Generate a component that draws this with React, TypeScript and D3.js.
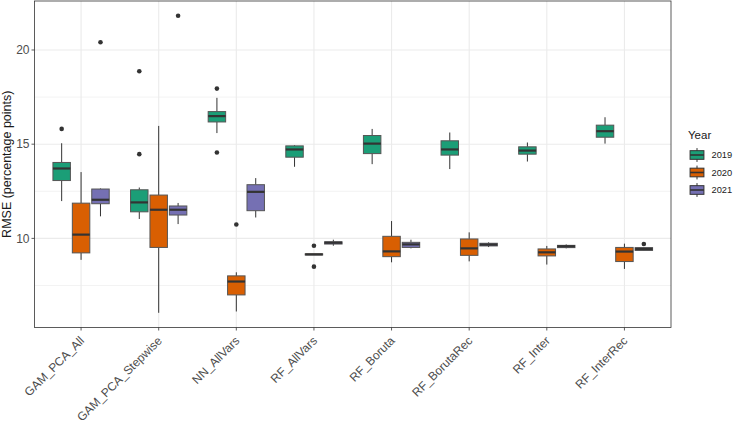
import React from "react";
import * as d3 from "d3";

const models = ["GAM_PCA_All", "GAM_PCA_Stepwise", "NN_AllVars", "RF_AllVars", "RF_Boruta", "RF_BorutaRec", "RF_Inter", "RF_InterRec"];
const years = ["2019", "2020", "2021"];
const colors = ["#1B9E77", "#D95F02", "#7570B3"];

// box stats per year, one value per model
const lower2019 = [11.98, 11.03, 15.59, 13.8, 13.94, 13.68, 14.08, 15.03];
const q1_2019 = [13.07, 11.41, 16.18, 14.31, 14.5, 14.42, 14.47, 15.37];
const med2019 = [13.71, 11.91, 16.49, 14.72, 15.03, 14.72, 14.66, 15.69];
const q3_2019 = [14.03, 12.58, 16.73, 14.91, 15.46, 15.18, 14.86, 16.01];
const upper2019 = [15.05, 12.7, 17.46, 14.95, 15.81, 15.62, 15.09, 16.43];

const lower2020 = [8.86, 6.05, 6.12, 9.12, 8.73, 8.78, 8.61, 8.38];
const q1_2020 = [9.23, 9.52, 7.0, 9.12, 9.03, 9.1, 9.07, 8.77];
const med2020 = [10.2, 11.52, 7.71, 9.15, 9.31, 9.47, 9.26, 9.3];
const q3_2020 = [11.87, 12.3, 8.01, 9.18, 10.11, 9.97, 9.44, 9.52];
const upper2020 = [13.52, 15.97, 8.2, 9.18, 10.92, 10.32, 9.6, 9.72];

const lower2021 = [11.17, 10.76, 11.11, 9.61, 9.47, 9.54, 9.47, 9.34];
const q1_2021 = [11.84, 11.24, 11.47, 9.7, 9.52, 9.6, 9.51, 9.36];
const med2021 = [12.05, 11.52, 12.47, 9.77, 9.68, 9.67, 9.58, 9.44];
const q3_2021 = [12.62, 11.72, 12.85, 9.82, 9.79, 9.74, 9.63, 9.51];
const upper2021 = [12.65, 11.88, 13.2, 9.93, 9.93, 9.79, 9.68, 9.53];

// [model index, year index, value]
const outliers = [
  [0, 0, 15.81], [0, 2, 20.41],
  [1, 0, 14.47], [1, 0, 18.87], [1, 2, 21.82],
  [2, 0, 17.95], [2, 0, 14.56], [2, 1, 10.74],
  [3, 1, 9.61], [3, 1, 8.5],
  [7, 2, 9.7],
];

const yTicks = [10, 15, 20];
const yMinor = [7.5, 12.5, 17.5];

const stats = [
  [lower2019, q1_2019, med2019, q3_2019, upper2019],
  [lower2020, q1_2020, med2020, q3_2020, upper2020],
  [lower2021, q1_2021, med2021, q3_2021, upper2021],
];

const App = () => {
  const width = 733;
  const height = 423;
  const left = 34.5, right = 671, top = 1, bottom = 327.5;

  const x = d3.scalePoint().domain(models).range([left, right]).padding(0.6);
  const step = x.step();
  const y = d3.scaleLinear().domain([5.27, 22.6]).range([bottom, top]);
  const font = "'Liberation Sans', Arial, sans-serif";
  const boxW = step * 0.225;
  const dodge = (j) => (j - 1) * step * 0.25;

  return (
    <svg width={width} height={height} style={{ position: "absolute", left: 0, top: 0 }} fontFamily={font}>
      <rect x={0} y={0} width={width} height={height} fill="white" />
      {/* grid */}
      {yMinor.map((t) => (
        <line key={"m" + t} x1={left} x2={right} y1={y(t)} y2={y(t)} stroke="#ebebeb" strokeWidth={0.6} />
      ))}
      {yTicks.map((t) => (
        <line key={"g" + t} x1={left} x2={right} y1={y(t)} y2={y(t)} stroke="#ebebeb" strokeWidth={1.1} />
      ))}
      {models.map((m) => (
        <line key={"gx" + m} x1={x(m)} x2={x(m)} y1={top} y2={bottom} stroke="#ebebeb" strokeWidth={1.1} />
      ))}

      {/* boxes */}
      {years.map((yr, j) =>
        models.map((m, i) => {
          const [lo, q1, md, q3, hi] = stats[j].map((a) => a[i]);
          const cx = x(m) + dodge(j);
          return (
            <g key={yr + m}>
              <line x1={cx} x2={cx} y1={y(hi)} y2={y(q3)} stroke="#333333" strokeWidth={1} />
              <line x1={cx} x2={cx} y1={y(q1)} y2={y(lo)} stroke="#333333" strokeWidth={1} />
              <rect x={cx - boxW / 2} y={y(q3)} width={boxW} height={Math.max(0.01, y(q1) - y(q3))}
                fill={colors[j]} stroke="#555555" strokeWidth={1} />
              <line x1={cx - boxW / 2} x2={cx + boxW / 2} y1={y(md)} y2={y(md)} stroke="#333333" strokeWidth={2.2} />
            </g>
          );
        })
      )}
      {outliers.map(([i, j, v], k) => (
        <circle key={"o" + k} cx={x(models[i]) + dodge(j)} cy={y(v)} r={2.3} fill="#333333" />
      ))}

      {/* panel border */}
      <rect x={left} y={top} width={right - left} height={bottom - top} fill="none" stroke="#333333" strokeWidth={0.8} />

      {/* y axis */}
      {yTicks.map((t) => (
        <g key={"yt" + t}>
          <line x1={left - 3} x2={left} y1={y(t)} y2={y(t)} stroke="#333333" strokeWidth={0.8} />
          <text x={left - 5} y={y(t)} dy="0.35em" textAnchor="end" fontSize={12} fill="#4d4d4d">{t}</text>
        </g>
      ))}
      <text transform={`translate(10.5,${(top + bottom) / 2}) rotate(-90)`} textAnchor="middle" fontSize={12.5} fill="#1a1a1a">
        RMSE (percentage points)
      </text>

      {/* x axis */}
      {models.map((m) => (
        <g key={"xt" + m}>
          <line x1={x(m)} x2={x(m)} y1={bottom} y2={bottom + 3} stroke="#333333" strokeWidth={0.8} />
          <text transform={`translate(${x(m) - 2},${bottom + 8}) rotate(-45)`} textAnchor="end" dy="0.7em"
            fontSize={12} fill="#4d4d4d">{m}</text>
        </g>
      ))}

      {/* legend */}
      <text x={688} y={138.5} fontSize={11.5} fill="#1a1a1a">Year</text>
      {years.map((yr, j) => {
        const k = 17.3;
        const ky = 155 + j * 17.5 - k / 2;
        const cx = 697;
        return (
          <g key={"lg" + yr}>
            <line x1={cx} x2={cx} y1={ky + k * 0.1} y2={ky + k * 0.9} stroke="#333333" strokeWidth={1} />
            <rect x={cx - k * 0.4} y={ky + k * 0.25} width={k * 0.8} height={k * 0.5} fill={colors[j]} stroke="#333333" strokeWidth={1} />
            <line x1={cx - k * 0.4} x2={cx + k * 0.4} y1={ky + k / 2} y2={ky + k / 2} stroke="#333333" strokeWidth={1.6} />
            <text x={711.5} y={ky + k / 2} dy="0.35em" fontSize={9.3} fill="#1a1a1a">{yr}</text>
          </g>
        );
      })}
    </svg>
  );
};

export default App;
